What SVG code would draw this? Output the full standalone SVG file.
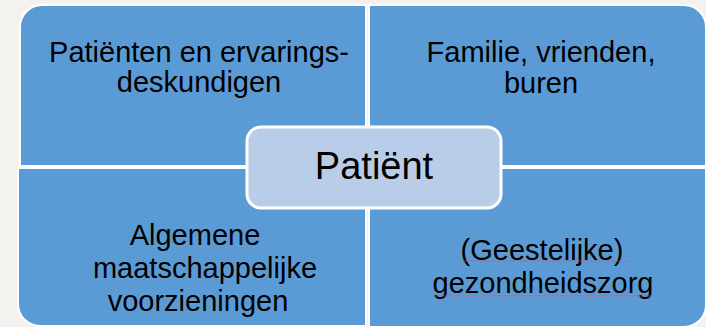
<svg xmlns="http://www.w3.org/2000/svg" width="706" height="327" viewBox="0 0 706 327">
<style>
.q{fill:#5b9bd5;stroke:#ffffff;stroke-width:2}
.t{font-family:"Liberation Sans",Arial,sans-serif;font-size:29px;fill:#000;text-anchor:middle}
.c{fill:#b9cde8;stroke:#ffffff;stroke-width:3}
.ct{font-family:"Liberation Sans",Arial,sans-serif;font-size:38px;fill:#000;text-anchor:middle}
.sp{stroke:#c0606e;stroke-width:1;opacity:0.6}
</style>
<rect x="0" y="0" width="706" height="327" fill="#f3f2ee"/>
<g id="quadrant-tl">
<path class="q" d="M20,166 V27 A22,22 0 0 1 42,5 H366 V166 Z"/>
<text class="t" x="199" y="62">Patiënten en ervarings-</text>
<text class="t" x="199" y="92">deskundigen</text>
</g>
<g id="quadrant-tr">
<path class="q" d="M369,166 V5 H684 A22,22 0 0 1 706,27 V166 Z"/>
<text class="t" x="541" y="62">Familie, vrienden,</text>
<text class="t" x="541" y="93">buren</text>
</g>
<g id="quadrant-bl">
<path class="q" d="M18,168 H366 V326 H40 A22,22 0 0 1 18,304 Z"/>
<text class="t" x="195" y="245">Algemene</text>
<text class="t" x="205" y="278">maatschappelijke</text>
<text class="t" x="198" y="311">voorzieningen</text>
</g>
<g id="quadrant-br">
<path class="q" d="M369,168 H706 V305 A22,22 0 0 1 684,327 H369 Z"/>
<text class="t" x="542" y="260">(Geestelijke)</text>
<text class="t" x="543" y="293">gezondheidszorg</text>
<line class="sp" x1="462" y1="261" x2="630" y2="261"/>
<line class="sp" x1="435" y1="296" x2="652" y2="296"/>
</g>
<g id="center">
<rect class="c" x="247" y="127" width="254" height="81" rx="14" ry="14"/>
<text class="ct" x="374" y="179">Patiënt</text>
</g>
</svg>
